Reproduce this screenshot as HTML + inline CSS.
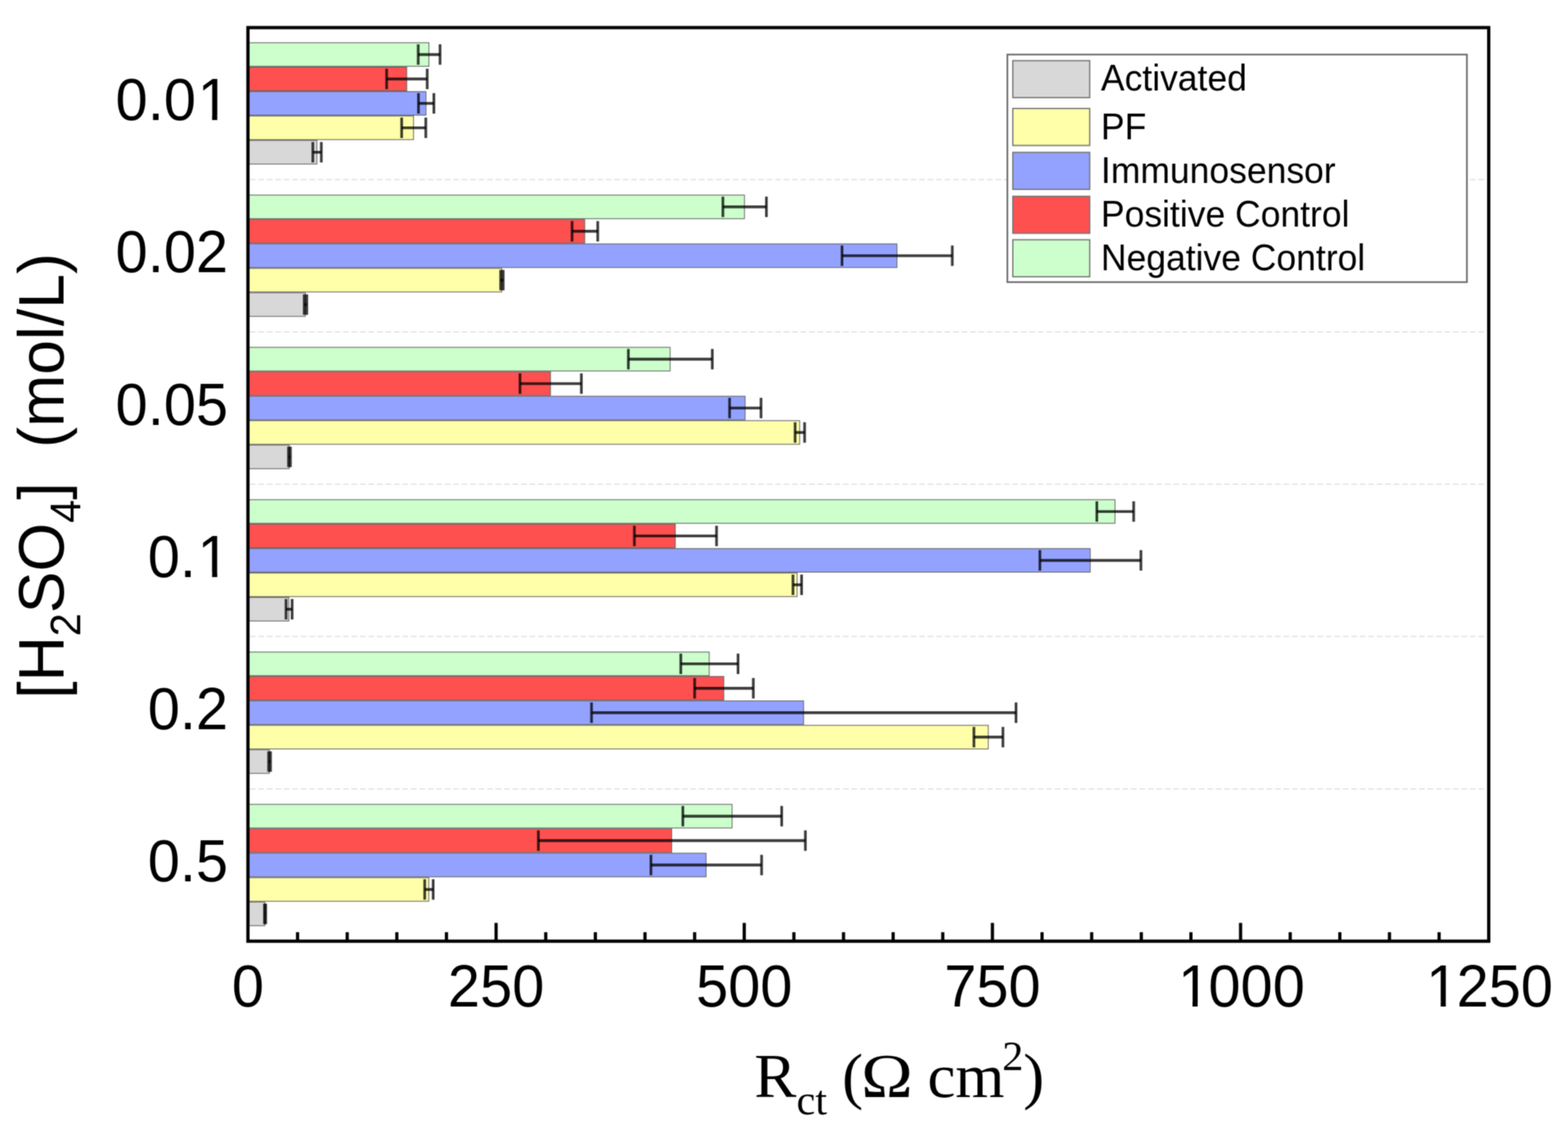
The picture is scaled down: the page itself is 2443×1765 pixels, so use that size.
<!DOCTYPE html>
<html><head><meta charset="utf-8"><title>Rct bar chart</title>
<style>html,body{margin:0;padding:0;background:#fff;}svg{display:block;}#c{width:2443px;height:1765px;overflow:hidden;}.sans{font-family:"Liberation Sans",Arial,sans-serif;}.serif{font-family:"Liberation Serif","Times New Roman",serif;}</style></head><body><div id="c">
<svg width="2443" height="1765" viewBox="0 0 2443 1765">
<defs><filter id="soft" x="0" y="0" width="2443" height="1765" filterUnits="userSpaceOnUse" color-interpolation-filters="sRGB"><feConvolveMatrix order="3" kernelMatrix="1 2 1 2 4 2 1 2 1" divisor="16" edgeMode="duplicate" preserveAlpha="true"/></filter></defs>
<g filter="url(#soft)">
<rect x="0" y="0" width="2443" height="1765" fill="#fff"/>
<line x1="389.3" y1="279.7" x2="2316.5" y2="279.7" stroke="#e2e2e2" stroke-width="2" stroke-dasharray="9 4.2"/>
<line x1="389.3" y1="517.0" x2="2316.5" y2="517.0" stroke="#e2e2e2" stroke-width="2" stroke-dasharray="9 4.2"/>
<line x1="389.3" y1="754.3" x2="2316.5" y2="754.3" stroke="#e2e2e2" stroke-width="2" stroke-dasharray="9 4.2"/>
<line x1="389.3" y1="991.6" x2="2316.5" y2="991.6" stroke="#e2e2e2" stroke-width="2" stroke-dasharray="9 4.2"/>
<line x1="389.3" y1="1228.9" x2="2316.5" y2="1228.9" stroke="#e2e2e2" stroke-width="2" stroke-dasharray="9 4.2"/>
<rect x="386.3" y="66.55" width="282.00" height="36.76" fill="#CCFFCC" stroke="#666666" stroke-width="1.3"/>
<rect x="386.3" y="104.61" width="247.40" height="36.76" fill="#FF5050" stroke="#666666" stroke-width="1.3"/>
<rect x="386.3" y="142.67" width="277.40" height="36.76" fill="#94A2FF" stroke="#666666" stroke-width="1.3"/>
<rect x="386.3" y="180.73" width="258.00" height="36.76" fill="#FFFFAA" stroke="#666666" stroke-width="1.3"/>
<rect x="386.3" y="218.79" width="107.40" height="36.76" fill="#D8D8D8" stroke="#666666" stroke-width="1.3"/>
<rect x="386.3" y="303.85" width="773.60" height="36.76" fill="#CCFFCC" stroke="#666666" stroke-width="1.3"/>
<rect x="386.3" y="341.91" width="524.70" height="36.76" fill="#FF5050" stroke="#666666" stroke-width="1.3"/>
<rect x="386.3" y="379.97" width="1011.20" height="36.76" fill="#94A2FF" stroke="#666666" stroke-width="1.3"/>
<rect x="386.3" y="418.03" width="395.40" height="36.76" fill="#FFFFAA" stroke="#666666" stroke-width="1.3"/>
<rect x="386.3" y="456.09" width="89.40" height="36.76" fill="#D8D8D8" stroke="#666666" stroke-width="1.3"/>
<rect x="386.3" y="541.15" width="657.80" height="36.76" fill="#CCFFCC" stroke="#666666" stroke-width="1.3"/>
<rect x="386.3" y="579.21" width="471.40" height="36.76" fill="#FF5050" stroke="#666666" stroke-width="1.3"/>
<rect x="386.3" y="617.27" width="774.60" height="36.76" fill="#94A2FF" stroke="#666666" stroke-width="1.3"/>
<rect x="386.3" y="655.33" width="859.60" height="36.76" fill="#FFFFAA" stroke="#666666" stroke-width="1.3"/>
<rect x="386.3" y="693.39" width="64.40" height="36.76" fill="#D8D8D8" stroke="#666666" stroke-width="1.3"/>
<rect x="386.3" y="778.45" width="1351.00" height="36.76" fill="#CCFFCC" stroke="#666666" stroke-width="1.3"/>
<rect x="386.3" y="816.51" width="665.80" height="36.76" fill="#FF5050" stroke="#666666" stroke-width="1.3"/>
<rect x="386.3" y="854.57" width="1312.30" height="36.76" fill="#94A2FF" stroke="#666666" stroke-width="1.3"/>
<rect x="386.3" y="892.63" width="855.60" height="36.76" fill="#FFFFAA" stroke="#666666" stroke-width="1.3"/>
<rect x="386.3" y="930.69" width="63.80" height="36.76" fill="#D8D8D8" stroke="#666666" stroke-width="1.3"/>
<rect x="386.3" y="1015.75" width="718.70" height="36.76" fill="#CCFFCC" stroke="#666666" stroke-width="1.3"/>
<rect x="386.3" y="1053.81" width="741.40" height="36.76" fill="#FF5050" stroke="#666666" stroke-width="1.3"/>
<rect x="386.3" y="1091.87" width="865.70" height="36.76" fill="#94A2FF" stroke="#666666" stroke-width="1.3"/>
<rect x="386.3" y="1129.93" width="1153.40" height="36.76" fill="#FFFFAA" stroke="#666666" stroke-width="1.3"/>
<rect x="386.3" y="1167.99" width="33.40" height="36.76" fill="#D8D8D8" stroke="#666666" stroke-width="1.3"/>
<rect x="386.3" y="1253.05" width="754.30" height="36.76" fill="#CCFFCC" stroke="#666666" stroke-width="1.3"/>
<rect x="386.3" y="1291.11" width="660.20" height="36.76" fill="#FF5050" stroke="#666666" stroke-width="1.3"/>
<rect x="386.3" y="1329.17" width="713.80" height="36.76" fill="#94A2FF" stroke="#666666" stroke-width="1.3"/>
<rect x="386.3" y="1367.23" width="281.70" height="36.76" fill="#FFFFAA" stroke="#666666" stroke-width="1.3"/>
<rect x="386.3" y="1405.29" width="26.40" height="36.76" fill="#D8D8D8" stroke="#666666" stroke-width="1.3"/>
<line x1="651.60" y1="84.93" x2="685.60" y2="84.93" stroke="rgba(0,0,0,0.76)" stroke-width="4.4"/>
<line x1="651.60" y1="69.00" x2="651.60" y2="100.86" stroke="rgba(0,0,0,0.76)" stroke-width="4.2"/>
<line x1="685.60" y1="69.00" x2="685.60" y2="100.86" stroke="rgba(0,0,0,0.76)" stroke-width="4.2"/>
<line x1="602.40" y1="122.99" x2="665.60" y2="122.99" stroke="rgba(0,0,0,0.76)" stroke-width="4.4"/>
<line x1="602.40" y1="107.06" x2="602.40" y2="138.92" stroke="rgba(0,0,0,0.76)" stroke-width="4.2"/>
<line x1="665.60" y1="107.06" x2="665.60" y2="138.92" stroke="rgba(0,0,0,0.76)" stroke-width="4.2"/>
<line x1="652.00" y1="161.05" x2="676.00" y2="161.05" stroke="rgba(0,0,0,0.76)" stroke-width="4.4"/>
<line x1="652.00" y1="145.12" x2="652.00" y2="176.98" stroke="rgba(0,0,0,0.76)" stroke-width="4.2"/>
<line x1="676.00" y1="145.12" x2="676.00" y2="176.98" stroke="rgba(0,0,0,0.76)" stroke-width="4.2"/>
<line x1="625.80" y1="199.11" x2="663.40" y2="199.11" stroke="rgba(0,0,0,0.76)" stroke-width="4.4"/>
<line x1="625.80" y1="183.18" x2="625.80" y2="215.04" stroke="rgba(0,0,0,0.76)" stroke-width="4.2"/>
<line x1="663.40" y1="183.18" x2="663.40" y2="215.04" stroke="rgba(0,0,0,0.76)" stroke-width="4.2"/>
<line x1="487.40" y1="237.17" x2="500.60" y2="237.17" stroke="rgba(0,0,0,0.76)" stroke-width="4.4"/>
<line x1="487.40" y1="221.24" x2="487.40" y2="253.10" stroke="rgba(0,0,0,0.76)" stroke-width="4.2"/>
<line x1="500.60" y1="221.24" x2="500.60" y2="253.10" stroke="rgba(0,0,0,0.76)" stroke-width="4.2"/>
<line x1="1126.30" y1="322.23" x2="1194.10" y2="322.23" stroke="rgba(0,0,0,0.76)" stroke-width="4.4"/>
<line x1="1126.30" y1="306.30" x2="1126.30" y2="338.16" stroke="rgba(0,0,0,0.76)" stroke-width="4.2"/>
<line x1="1194.10" y1="306.30" x2="1194.10" y2="338.16" stroke="rgba(0,0,0,0.76)" stroke-width="4.2"/>
<line x1="891.30" y1="360.29" x2="931.30" y2="360.29" stroke="rgba(0,0,0,0.76)" stroke-width="4.4"/>
<line x1="891.30" y1="344.36" x2="891.30" y2="376.22" stroke="rgba(0,0,0,0.76)" stroke-width="4.2"/>
<line x1="931.30" y1="344.36" x2="931.30" y2="376.22" stroke="rgba(0,0,0,0.76)" stroke-width="4.2"/>
<line x1="1311.90" y1="398.35" x2="1483.70" y2="398.35" stroke="rgba(0,0,0,0.76)" stroke-width="4.4"/>
<line x1="1311.90" y1="382.42" x2="1311.90" y2="414.28" stroke="rgba(0,0,0,0.76)" stroke-width="4.2"/>
<line x1="1483.70" y1="382.42" x2="1483.70" y2="414.28" stroke="rgba(0,0,0,0.76)" stroke-width="4.2"/>
<line x1="780.00" y1="436.41" x2="784.00" y2="436.41" stroke="rgba(0,0,0,0.76)" stroke-width="4.4"/>
<line x1="780.00" y1="420.48" x2="780.00" y2="452.34" stroke="rgba(0,0,0,0.76)" stroke-width="4.2"/>
<line x1="784.00" y1="420.48" x2="784.00" y2="452.34" stroke="rgba(0,0,0,0.76)" stroke-width="4.2"/>
<line x1="474.00" y1="474.47" x2="478.00" y2="474.47" stroke="rgba(0,0,0,0.76)" stroke-width="4.4"/>
<line x1="474.00" y1="458.54" x2="474.00" y2="490.40" stroke="rgba(0,0,0,0.76)" stroke-width="4.2"/>
<line x1="478.00" y1="458.54" x2="478.00" y2="490.40" stroke="rgba(0,0,0,0.76)" stroke-width="4.2"/>
<line x1="979.00" y1="559.53" x2="1109.80" y2="559.53" stroke="rgba(0,0,0,0.76)" stroke-width="4.4"/>
<line x1="979.00" y1="543.60" x2="979.00" y2="575.46" stroke="rgba(0,0,0,0.76)" stroke-width="4.2"/>
<line x1="1109.80" y1="543.60" x2="1109.80" y2="575.46" stroke="rgba(0,0,0,0.76)" stroke-width="4.2"/>
<line x1="810.20" y1="597.59" x2="905.80" y2="597.59" stroke="rgba(0,0,0,0.76)" stroke-width="4.4"/>
<line x1="810.20" y1="581.66" x2="810.20" y2="613.52" stroke="rgba(0,0,0,0.76)" stroke-width="4.2"/>
<line x1="905.80" y1="581.66" x2="905.80" y2="613.52" stroke="rgba(0,0,0,0.76)" stroke-width="4.2"/>
<line x1="1136.70" y1="635.65" x2="1185.70" y2="635.65" stroke="rgba(0,0,0,0.76)" stroke-width="4.4"/>
<line x1="1136.70" y1="619.72" x2="1136.70" y2="651.58" stroke="rgba(0,0,0,0.76)" stroke-width="4.2"/>
<line x1="1185.70" y1="619.72" x2="1185.70" y2="651.58" stroke="rgba(0,0,0,0.76)" stroke-width="4.2"/>
<line x1="1238.80" y1="673.71" x2="1253.60" y2="673.71" stroke="rgba(0,0,0,0.76)" stroke-width="4.4"/>
<line x1="1238.80" y1="657.78" x2="1238.80" y2="689.64" stroke="rgba(0,0,0,0.76)" stroke-width="4.2"/>
<line x1="1253.60" y1="657.78" x2="1253.60" y2="689.64" stroke="rgba(0,0,0,0.76)" stroke-width="4.2"/>
<line x1="449.50" y1="711.77" x2="452.50" y2="711.77" stroke="rgba(0,0,0,0.76)" stroke-width="4.4"/>
<line x1="449.50" y1="695.84" x2="449.50" y2="727.70" stroke="rgba(0,0,0,0.76)" stroke-width="4.2"/>
<line x1="452.50" y1="695.84" x2="452.50" y2="727.70" stroke="rgba(0,0,0,0.76)" stroke-width="4.2"/>
<line x1="1708.90" y1="796.83" x2="1766.30" y2="796.83" stroke="rgba(0,0,0,0.76)" stroke-width="4.4"/>
<line x1="1708.90" y1="780.90" x2="1708.90" y2="812.76" stroke="rgba(0,0,0,0.76)" stroke-width="4.2"/>
<line x1="1766.30" y1="780.90" x2="1766.30" y2="812.76" stroke="rgba(0,0,0,0.76)" stroke-width="4.2"/>
<line x1="988.40" y1="834.89" x2="1116.40" y2="834.89" stroke="rgba(0,0,0,0.76)" stroke-width="4.4"/>
<line x1="988.40" y1="818.96" x2="988.40" y2="850.82" stroke="rgba(0,0,0,0.76)" stroke-width="4.2"/>
<line x1="1116.40" y1="818.96" x2="1116.40" y2="850.82" stroke="rgba(0,0,0,0.76)" stroke-width="4.2"/>
<line x1="1620.20" y1="872.95" x2="1777.60" y2="872.95" stroke="rgba(0,0,0,0.76)" stroke-width="4.4"/>
<line x1="1620.20" y1="857.02" x2="1620.20" y2="888.88" stroke="rgba(0,0,0,0.76)" stroke-width="4.2"/>
<line x1="1777.60" y1="857.02" x2="1777.60" y2="888.88" stroke="rgba(0,0,0,0.76)" stroke-width="4.2"/>
<line x1="1235.50" y1="911.01" x2="1248.90" y2="911.01" stroke="rgba(0,0,0,0.76)" stroke-width="4.4"/>
<line x1="1235.50" y1="895.08" x2="1235.50" y2="926.94" stroke="rgba(0,0,0,0.76)" stroke-width="4.2"/>
<line x1="1248.90" y1="895.08" x2="1248.90" y2="926.94" stroke="rgba(0,0,0,0.76)" stroke-width="4.2"/>
<line x1="445.65" y1="949.07" x2="455.15" y2="949.07" stroke="rgba(0,0,0,0.76)" stroke-width="4.4"/>
<line x1="445.65" y1="933.14" x2="445.65" y2="965.00" stroke="rgba(0,0,0,0.76)" stroke-width="4.2"/>
<line x1="455.15" y1="933.14" x2="455.15" y2="965.00" stroke="rgba(0,0,0,0.76)" stroke-width="4.2"/>
<line x1="1060.70" y1="1034.13" x2="1149.90" y2="1034.13" stroke="rgba(0,0,0,0.76)" stroke-width="4.4"/>
<line x1="1060.70" y1="1018.20" x2="1060.70" y2="1050.06" stroke="rgba(0,0,0,0.76)" stroke-width="4.2"/>
<line x1="1149.90" y1="1018.20" x2="1149.90" y2="1050.06" stroke="rgba(0,0,0,0.76)" stroke-width="4.2"/>
<line x1="1082.30" y1="1072.19" x2="1173.70" y2="1072.19" stroke="rgba(0,0,0,0.76)" stroke-width="4.4"/>
<line x1="1082.30" y1="1056.26" x2="1082.30" y2="1088.12" stroke="rgba(0,0,0,0.76)" stroke-width="4.2"/>
<line x1="1173.70" y1="1056.26" x2="1173.70" y2="1088.12" stroke="rgba(0,0,0,0.76)" stroke-width="4.2"/>
<line x1="921.60" y1="1110.25" x2="1583.00" y2="1110.25" stroke="rgba(0,0,0,0.76)" stroke-width="4.4"/>
<line x1="921.60" y1="1094.32" x2="921.60" y2="1126.18" stroke="rgba(0,0,0,0.76)" stroke-width="4.2"/>
<line x1="1583.00" y1="1094.32" x2="1583.00" y2="1126.18" stroke="rgba(0,0,0,0.76)" stroke-width="4.2"/>
<line x1="1517.40" y1="1148.31" x2="1562.60" y2="1148.31" stroke="rgba(0,0,0,0.76)" stroke-width="4.4"/>
<line x1="1517.40" y1="1132.38" x2="1517.40" y2="1164.24" stroke="rgba(0,0,0,0.76)" stroke-width="4.2"/>
<line x1="1562.60" y1="1132.38" x2="1562.60" y2="1164.24" stroke="rgba(0,0,0,0.76)" stroke-width="4.2"/>
<line x1="418.50" y1="1186.37" x2="421.50" y2="1186.37" stroke="rgba(0,0,0,0.76)" stroke-width="4.4"/>
<line x1="418.50" y1="1170.44" x2="418.50" y2="1202.30" stroke="rgba(0,0,0,0.76)" stroke-width="4.2"/>
<line x1="421.50" y1="1170.44" x2="421.50" y2="1202.30" stroke="rgba(0,0,0,0.76)" stroke-width="4.2"/>
<line x1="1063.90" y1="1271.43" x2="1217.90" y2="1271.43" stroke="rgba(0,0,0,0.76)" stroke-width="4.4"/>
<line x1="1063.90" y1="1255.50" x2="1063.90" y2="1287.36" stroke="rgba(0,0,0,0.76)" stroke-width="4.2"/>
<line x1="1217.90" y1="1255.50" x2="1217.90" y2="1287.36" stroke="rgba(0,0,0,0.76)" stroke-width="4.2"/>
<line x1="838.80" y1="1309.49" x2="1254.80" y2="1309.49" stroke="rgba(0,0,0,0.76)" stroke-width="4.4"/>
<line x1="838.80" y1="1293.56" x2="838.80" y2="1325.42" stroke="rgba(0,0,0,0.76)" stroke-width="4.2"/>
<line x1="1254.80" y1="1293.56" x2="1254.80" y2="1325.42" stroke="rgba(0,0,0,0.76)" stroke-width="4.2"/>
<line x1="1014.20" y1="1347.55" x2="1186.60" y2="1347.55" stroke="rgba(0,0,0,0.76)" stroke-width="4.4"/>
<line x1="1014.20" y1="1331.62" x2="1014.20" y2="1363.48" stroke="rgba(0,0,0,0.76)" stroke-width="4.2"/>
<line x1="1186.60" y1="1331.62" x2="1186.60" y2="1363.48" stroke="rgba(0,0,0,0.76)" stroke-width="4.2"/>
<line x1="661.70" y1="1385.61" x2="674.90" y2="1385.61" stroke="rgba(0,0,0,0.76)" stroke-width="4.4"/>
<line x1="661.70" y1="1369.68" x2="661.70" y2="1401.54" stroke="rgba(0,0,0,0.76)" stroke-width="4.2"/>
<line x1="674.90" y1="1369.68" x2="674.90" y2="1401.54" stroke="rgba(0,0,0,0.76)" stroke-width="4.2"/>
<line x1="412.00" y1="1423.67" x2="414.00" y2="1423.67" stroke="rgba(0,0,0,0.76)" stroke-width="4.4"/>
<line x1="412.00" y1="1407.74" x2="412.00" y2="1439.60" stroke="rgba(0,0,0,0.76)" stroke-width="4.2"/>
<line x1="414.00" y1="1407.74" x2="414.00" y2="1439.60" stroke="rgba(0,0,0,0.76)" stroke-width="4.2"/>
<rect x="1569.5" y="85.0" width="716.0" height="354.5" fill="#fff" stroke="#6a6a6a" stroke-width="2.6"/>
<rect x="1578" y="94.5" width="119.8" height="57.6" fill="#D8D8D8" stroke="#777" stroke-width="2"/>
<text class="sans" transform="translate(1715.3 141.0) scale(0.965 1)" font-size="57.3" fill="#000">Activated</text>
<rect x="1578" y="169.0" width="119.8" height="57.6" fill="#FFFFAA" stroke="#777" stroke-width="2"/>
<text class="sans" transform="translate(1715.3 217.4) scale(0.965 1)" font-size="57.3" fill="#000">PF</text>
<rect x="1578" y="237.4" width="119.8" height="57.6" fill="#94A2FF" stroke="#777" stroke-width="2"/>
<text class="sans" transform="translate(1715.3 285.0) scale(0.965 1)" font-size="57.3" fill="#000">Immunosensor</text>
<rect x="1578" y="305.8" width="119.8" height="57.6" fill="#FF5050" stroke="#777" stroke-width="2"/>
<text class="sans" transform="translate(1715.3 352.6) scale(0.965 1)" font-size="57.3" fill="#000">Positive Control</text>
<rect x="1578" y="373.5" width="119.8" height="57.6" fill="#CCFFCC" stroke="#777" stroke-width="2"/>
<text class="sans" transform="translate(1715.3 421.2) scale(0.965 1)" font-size="57.3" fill="#000">Negative Control</text>
<rect x="386.3" y="43.0" width="1933.2" height="1423.2" fill="none" stroke="#000" stroke-width="5.1"/>
<line x1="463.63" y1="1452.2" x2="463.63" y2="1466.2" stroke="#000" stroke-width="5"/>
<line x1="540.96" y1="1452.2" x2="540.96" y2="1466.2" stroke="#000" stroke-width="5"/>
<line x1="618.28" y1="1452.2" x2="618.28" y2="1466.2" stroke="#000" stroke-width="5"/>
<line x1="695.61" y1="1452.2" x2="695.61" y2="1466.2" stroke="#000" stroke-width="5"/>
<line x1="772.94" y1="1437.7" x2="772.94" y2="1466.2" stroke="#000" stroke-width="5"/>
<line x1="850.27" y1="1452.2" x2="850.27" y2="1466.2" stroke="#000" stroke-width="5"/>
<line x1="927.60" y1="1452.2" x2="927.60" y2="1466.2" stroke="#000" stroke-width="5"/>
<line x1="1004.92" y1="1452.2" x2="1004.92" y2="1466.2" stroke="#000" stroke-width="5"/>
<line x1="1082.25" y1="1452.2" x2="1082.25" y2="1466.2" stroke="#000" stroke-width="5"/>
<line x1="1159.58" y1="1437.7" x2="1159.58" y2="1466.2" stroke="#000" stroke-width="5"/>
<line x1="1236.91" y1="1452.2" x2="1236.91" y2="1466.2" stroke="#000" stroke-width="5"/>
<line x1="1314.24" y1="1452.2" x2="1314.24" y2="1466.2" stroke="#000" stroke-width="5"/>
<line x1="1391.56" y1="1452.2" x2="1391.56" y2="1466.2" stroke="#000" stroke-width="5"/>
<line x1="1468.89" y1="1452.2" x2="1468.89" y2="1466.2" stroke="#000" stroke-width="5"/>
<line x1="1546.22" y1="1437.7" x2="1546.22" y2="1466.2" stroke="#000" stroke-width="5"/>
<line x1="1623.55" y1="1452.2" x2="1623.55" y2="1466.2" stroke="#000" stroke-width="5"/>
<line x1="1700.88" y1="1452.2" x2="1700.88" y2="1466.2" stroke="#000" stroke-width="5"/>
<line x1="1778.20" y1="1452.2" x2="1778.20" y2="1466.2" stroke="#000" stroke-width="5"/>
<line x1="1855.53" y1="1452.2" x2="1855.53" y2="1466.2" stroke="#000" stroke-width="5"/>
<line x1="1932.86" y1="1437.7" x2="1932.86" y2="1466.2" stroke="#000" stroke-width="5"/>
<line x1="2010.19" y1="1452.2" x2="2010.19" y2="1466.2" stroke="#000" stroke-width="5"/>
<line x1="2087.52" y1="1452.2" x2="2087.52" y2="1466.2" stroke="#000" stroke-width="5"/>
<line x1="2164.84" y1="1452.2" x2="2164.84" y2="1466.2" stroke="#000" stroke-width="5"/>
<line x1="2242.17" y1="1452.2" x2="2242.17" y2="1466.2" stroke="#000" stroke-width="5"/>
<g transform="translate(386.30 1567.60) scale(0.968 1)"><text class="sans" x="-25.86" y="0" font-size="93.0" fill="#000">0</text></g>
<g transform="translate(772.94 1567.60) scale(0.968 1)"><text class="sans" x="-77.58" y="0" font-size="93.0" fill="#000">250</text></g>
<g transform="translate(1159.58 1567.60) scale(0.968 1)"><text class="sans" x="-77.58" y="0" font-size="93.0" fill="#000">500</text></g>
<g transform="translate(1546.22 1567.60) scale(0.968 1)"><text class="sans" x="-77.58" y="0" font-size="93.0" fill="#000">750</text></g>
<g transform="translate(1932.86 1567.60) scale(0.968 1)"><text class="sans" x="-103.44" y="0" font-size="93.0" fill="#000"><tspan dx="2.72">1</tspan><tspan dx="-2.72">0</tspan>00</text><rect x="-94.36" y="-7.63" width="17.01" height="8.17" fill="#fff"/><rect x="-69.09" y="-7.63" width="16.51" height="8.17" fill="#fff"/></g>
<g transform="translate(2319.50 1567.60) scale(0.968 1)"><text class="sans" x="-103.44" y="0" font-size="93.0" fill="#000"><tspan dx="2.72">1</tspan><tspan dx="-2.72">2</tspan>50</text><rect x="-94.36" y="-7.63" width="17.01" height="8.17" fill="#fff"/><rect x="-69.09" y="-7.63" width="16.51" height="8.17" fill="#fff"/></g>
<g transform="translate(355.30 186.90) scale(0.968 1)"><text class="sans" x="-181.00" y="0" font-size="93.0" fill="#000">0.0<tspan dx="2.72">1</tspan></text><rect x="-42.64" y="-7.63" width="17.01" height="8.17" fill="#fff"/><rect x="-17.37" y="-7.63" width="16.51" height="8.17" fill="#fff"/></g>
<g transform="translate(355.30 424.20) scale(0.968 1)"><text class="sans" x="-181.00" y="0" font-size="93.0" fill="#000">0.02</text></g>
<g transform="translate(355.30 661.50) scale(0.968 1)"><text class="sans" x="-181.00" y="0" font-size="93.0" fill="#000">0.05</text></g>
<g transform="translate(355.30 898.80) scale(0.968 1)"><text class="sans" x="-129.28" y="0" font-size="93.0" fill="#000">0.<tspan dx="2.72">1</tspan></text><rect x="-42.64" y="-7.63" width="17.01" height="8.17" fill="#fff"/><rect x="-17.37" y="-7.63" width="16.51" height="8.17" fill="#fff"/></g>
<g transform="translate(355.30 1136.10) scale(0.968 1)"><text class="sans" x="-129.28" y="0" font-size="93.0" fill="#000">0.2</text></g>
<g transform="translate(355.30 1373.40) scale(0.968 1)"><text class="sans" x="-129.28" y="0" font-size="93.0" fill="#000">0.5</text></g>
<g transform="translate(98.7 0) rotate(-90)"><text class="sans" transform="translate(-1088.6 0) scale(0.979 1)" font-size="99.5" fill="#000">[H<tspan font-size="66.0" dy="26.5">2</tspan><tspan dy="-26.5">SO</tspan><tspan font-size="66.0" dy="26.5">4</tspan><tspan dy="-26.5">]  (mol/L)</tspan></text></g>
<text class="serif" x="1175.2" y="1709.4" font-size="98.3" fill="#000">R</text>
<text class="serif" x="1240.9" y="1735.7" font-size="66.0" fill="#000">ct</text>
<text class="serif" x="1312.1" y="1709.4" font-size="98.3" fill="#000">(</text>
<text class="serif" transform="translate(1341.70 1709.4) scale(1.1 1)" font-size="98.3" fill="#000">Ω</text>
<text class="serif" x="1444.96" y="1709.4" font-size="98.3" fill="#000">cm</text>
<text class="serif" x="1561.6" y="1667.4" font-size="66.0" fill="#000">2</text>
<text class="serif" x="1594.3" y="1709.4" font-size="98.3" fill="#000">)</text>
</g></svg></div></body></html>
